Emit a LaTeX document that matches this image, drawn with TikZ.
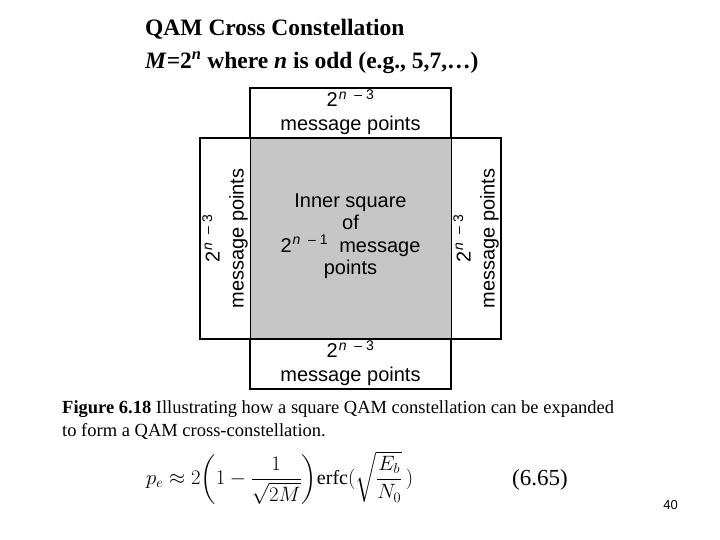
\documentclass[tikz,border=0pt]{standalone}
\usepackage{amsmath}
\usepackage{fontspec}
\setmainfont{Liberation Serif}
\newfontfamily\figsans{Liberation Sans}
\newcommand{\pw}[1]{2\textsuperscript{\kern1pt\textit{n}\ \ – #1}}
\begin{document}
\begin{tikzpicture}[x=1pt,y=-1pt,
  lab/.style={font=\figsans\fontsize{20}{24}\selectfont,align=center,inner sep=0pt},
  box/.style={draw=black,line width=1.4pt}]
\useasboundingbox (0,0) rectangle (720,540);
\fill[white] (0,0) rectangle (720,540);
\node[anchor=west,font=\bfseries\fontsize{23.5}{26}\selectfont,inner sep=0pt] (t1) at (145,29) {QAM Cross Constellation};
\node[anchor=west,font=\bfseries\fontsize{23.5}{26}\selectfont,inner sep=0pt] (t2) at (145,63) {\textit{M}=2\textsuperscript{\textit{n}} where \textit{n} is odd (e.g., 5,7,\dots)};
\fill[gray!45] (250,138) rectangle (451,339);
\draw[box] (200,138) rectangle (501,339);
\draw[box] (250,88) rectangle (451,138);
\draw[box] (250,339) rectangle (451,389);
\draw[line width=0.8pt] (250,138) -- (250,339) (451,138) -- (451,339);
\node[lab] (top) at (350.5,112) {\pw{3}\\message points};
\node[lab] (bot) at (350.5,363) {\pw{3}\\message points};
\node[lab,rotate=90] (lft) at (225,238.5) {\pw{3}\\message points};
\node[lab,rotate=90] (rgt) at (476,238.5) {\pw{3}\\message points};
\node[lab,font=\figsans\fontsize{20}{22.5}\selectfont] (mid) at (350.5,236) {Inner square\\of\\\pw{1}\ \ message\\points};
\node[anchor=west,align=left,font=\fontsize{18.5}{23.5}\selectfont,inner sep=0pt] (cap) at (62,420) {\textbf{Figure 6.18} Illustrating how a square QAM constellation can be expanded\\to form a QAM cross-constellation.};
\node[anchor=west,inner sep=0pt,font=\fontsize{20}{24}\selectfont] (eq) at (146,478) {$\displaystyle p_e \approx 2\biggl(1-\frac{1}{\sqrt{2M}}\biggr)\mathrm{erfc}(\sqrt{\frac{E_b}{N_0}}\,)$};
\node[anchor=west,inner sep=0pt,font=\fontsize{23}{26}\selectfont] (num) at (512,480) {(6.65)};
\node[anchor=east,inner sep=0pt,font=\figsans\fontsize{13}{15}\selectfont] (pg) at (678,505) {40};
\end{tikzpicture}
\end{document}
